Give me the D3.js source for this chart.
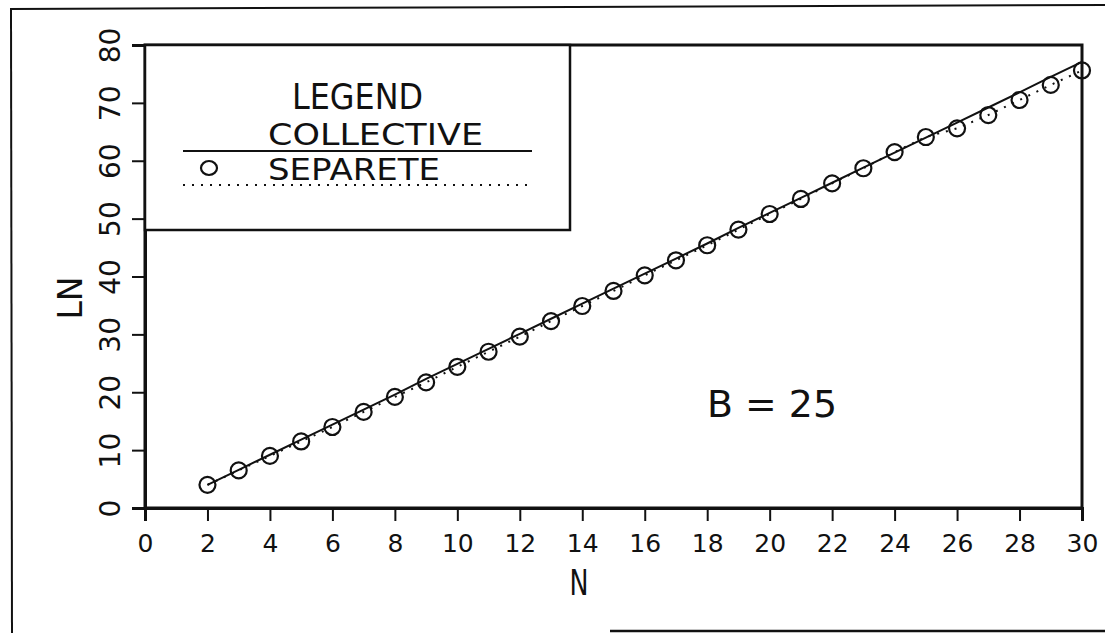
<!DOCTYPE html>
<html lang="en">
<head>
  <meta charset="UTF-8">
  <title>LN vs N, B = 25</title>
  <script src="https://d3js.org/d3.v7.min.js"></script>
  <style>
    body { margin: 0; background: #fff; }
    svg text { font-family: "DejaVu Sans", sans-serif; fill: #111; }
  </style>
</head>
<body>
  <svg id="chart" width="1105" height="633"></svg>
  <script>
    // Data
    const nValues = d3.range(2, 31);
    const collective = [4.0, 6.6, 9.2, 11.8, 14.4, 17.0, 19.6, 22.3, 24.9, 27.5,
      30.1, 32.7, 35.3, 37.9, 40.5, 43.1, 45.7, 48.4, 51.0, 53.6,
      56.2, 58.8, 61.4, 64.0, 66.6, 69.2, 71.8, 74.5, 77.1];
    const separete = [4.0, 6.5, 9.0, 11.5, 14.0, 16.6, 19.2, 21.7, 24.4, 27.0,
      29.6, 32.3, 34.9, 37.5, 40.2, 42.8, 45.4, 48.1, 50.8, 53.4,
      56.1, 58.7, 61.5, 64.1, 65.6, 67.9, 70.5, 73.1, 75.6];
    const xTicks = d3.range(0, 31, 2);
    const yTicks = d3.range(0, 81, 10);
    const seriesNames = ["COLLECTIVE", "SEPARETE"];

    const svg = d3.select("#chart");
    const x = d3.scaleLinear().domain([0, 30]).range([145, 1082]);
    const y = d3.scaleLinear().domain([0, 80]).range([508, 45]);

    // outer frame (scanned page border)
    svg.append("line").attr("x1", 10).attr("y1", 9).attr("x2", 1105).attr("y2", 5)
      .attr("stroke", "#111").attr("stroke-width", 2);
    svg.append("line").attr("x1", 11).attr("y1", 9).attr("x2", 12).attr("y2", 633)
      .attr("stroke", "#111").attr("stroke-width", 2);
    svg.append("line").attr("x1", 610).attr("y1", 631).attr("x2", 1105).attr("y2", 631)
      .attr("stroke", "#111").attr("stroke-width", 2.5);

    // plot frame
    svg.append("rect")
      .attr("x", x(0)).attr("y", y(80))
      .attr("width", x(30) - x(0)).attr("height", y(0) - y(80))
      .attr("fill", "none").attr("stroke", "#111").attr("stroke-width", 3);

    // x axis
    const xAxis = svg.append("g")
      .attr("transform", `translate(0,${y(0)})`)
      .call(d3.axisBottom(x).tickValues(xTicks).tickSize(13).tickFormat(d3.format("d")));
    xAxis.select(".domain").attr("stroke", "#111").attr("stroke-width", 3);
    xAxis.selectAll(".tick line").attr("stroke", "#111").attr("stroke-width", 2);
    xAxis.selectAll(".tick text")
      .attr("y", 44).attr("dy", null)
      .style("font-family", "DejaVu Sans")
      .style("font-size", "25px").attr("fill", "#111");

    // y axis with rotated labels
    const yAxis = svg.append("g")
      .attr("transform", `translate(${x(0)},0)`)
      .call(d3.axisLeft(y).tickValues(yTicks).tickSize(13).tickFormat(d3.format("d")));
    yAxis.select(".domain").attr("stroke", "#111").attr("stroke-width", 3);
    yAxis.selectAll(".tick line").attr("stroke", "#111").attr("stroke-width", 2);
    yAxis.selectAll(".tick text")
      .attr("x", null).attr("dy", null)
      .attr("text-anchor", "middle")
      .attr("transform", "translate(-25,0) rotate(-90)")
      .style("font-family", "DejaVu Sans")
      .style("font-size", "28px").attr("fill", "#111");

    // axis titles
    svg.append("text")
      .attr("transform", "translate(82,298) rotate(-90)")
      .attr("text-anchor", "middle")
      .style("font-size", "33px")
      .text("LN");
    svg.append("text")
      .attr("x", 579).attr("y", 595)
      .attr("text-anchor", "middle")
      .style("font-size", "36px")
      .attr("textLength", 19).attr("lengthAdjust", "spacingAndGlyphs")
      .text("N");

    // annotation
    svg.append("text")
      .attr("x", 707).attr("y", 417)
      .style("font-size", "37px")
      .attr("textLength", 130).attr("lengthAdjust", "spacingAndGlyphs")
      .text("B = 25");

    // collective line
    const line = d3.line().x((d, i) => x(nValues[i])).y(d => y(d));
    svg.append("path").datum(collective)
      .attr("d", line)
      .attr("fill", "none").attr("stroke", "#111").attr("stroke-width", 2);

    // separete dotted line + circles
    svg.append("path").datum(separete)
      .attr("d", line)
      .attr("fill", "none").attr("stroke", "#111").attr("stroke-width", 2)
      .attr("stroke-dasharray", "2,7");
    svg.append("g").selectAll("circle")
      .data(separete)
      .enter().append("circle")
      .attr("cx", (d, i) => x(nValues[i]))
      .attr("cy", d => y(d))
      .attr("r", 8)
      .attr("fill", "none").attr("stroke", "#111").attr("stroke-width", 2.2);

    // legend
    const lg = svg.append("g");
    lg.append("rect")
      .attr("x", 145).attr("y", 45).attr("width", 425).attr("height", 185)
      .attr("fill", "#fff").attr("stroke", "#111").attr("stroke-width", 2.5);
    lg.append("text")
      .attr("x", 292).attr("y", 109)
      .style("font-size", "35px")
      .attr("textLength", 131).attr("lengthAdjust", "spacingAndGlyphs")
      .text("LEGEND");
    lg.append("text")
      .attr("x", 268).attr("y", 145)
      .style("font-size", "31px")
      .attr("textLength", 215).attr("lengthAdjust", "spacingAndGlyphs")
      .text(seriesNames[0]);
    lg.append("text")
      .attr("x", 268).attr("y", 180)
      .style("font-size", "31px")
      .attr("textLength", 172).attr("lengthAdjust", "spacingAndGlyphs")
      .text(seriesNames[1]);
    lg.append("line")
      .attr("x1", 183).attr("x2", 532).attr("y1", 151).attr("y2", 151)
      .attr("stroke", "#111").attr("stroke-width", 2);
    lg.append("line")
      .attr("x1", 183).attr("x2", 532).attr("y1", 185).attr("y2", 185)
      .attr("stroke", "#111").attr("stroke-width", 2)
      .attr("stroke-dasharray", "2,7");
    lg.append("ellipse")
      .attr("cx", 209).attr("cy", 168).attr("rx", 8).attr("ry", 7)
      .attr("fill", "none").attr("stroke", "#111").attr("stroke-width", 2.2);
  </script>
</body>
</html>
